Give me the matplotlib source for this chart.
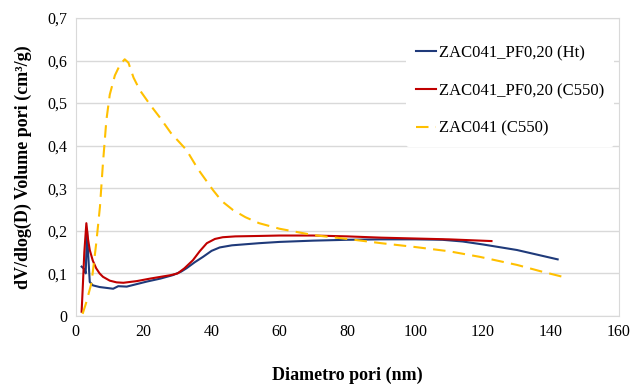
import matplotlib.pyplot as plt
from matplotlib.ticker import FuncFormatter

plt.rcParams['font.family'] = ['Liberation Serif', 'DejaVu Serif']

# dati
x_ht = [1.7, 2.5, 2.9, 3.3, 3.6, 4.1, 5, 7, 9, 11, 12, 12.5, 15, 18, 21, 25, 28.6, 31,
        32.6, 35, 37.5, 40, 42.4, 46, 54, 60, 70, 80, 90, 100, 108, 114, 120, 130, 142]
y_ht = [0.116, 0.11, 0.1, 0.198, 0.15, 0.08, 0.072, 0.068, 0.066, 0.064, 0.068, 0.07,
        0.069, 0.075, 0.081, 0.088, 0.096, 0.104, 0.112, 0.126, 0.139, 0.153, 0.161,
        0.166, 0.171, 0.174, 0.177, 0.179, 0.18, 0.18, 0.179, 0.175, 0.168, 0.155, 0.133]

x_c550 = [1.7, 2.0, 2.5, 3.1, 3.6, 4.1, 5, 6, 7, 8, 10, 12, 14, 18, 22, 25, 28, 30, 32,
          34.5, 36.5, 38.6, 41, 43.3, 47, 54, 60, 70, 80, 90, 100, 110, 122.5]
y_c550 = [0.01, 0.06, 0.15, 0.218, 0.18, 0.155, 0.13, 0.112, 0.1, 0.092, 0.083, 0.079,
          0.078, 0.082, 0.088, 0.092, 0.096, 0.1, 0.112, 0.131, 0.152, 0.171, 0.181,
          0.185, 0.187, 0.188, 0.189, 0.189, 0.187, 0.184, 0.182, 0.18, 0.176]

x_ref = [2, 3, 4.6, 6, 7.1, 8, 9, 10, 11.5, 13, 14.4, 15.5, 17, 18.9, 22, 24.7, 28, 32.6,
         36, 40.4, 43, 46.3, 50, 54, 60, 70, 80, 90, 100, 110, 119, 130, 137, 145]
y_ref = [0.005, 0.03, 0.077, 0.17, 0.256, 0.36, 0.46, 0.52, 0.565, 0.59, 0.603, 0.595,
         0.56, 0.53, 0.495, 0.467, 0.43, 0.39, 0.345, 0.296, 0.27, 0.249, 0.232, 0.218,
         0.205, 0.19, 0.181, 0.171, 0.162, 0.152, 0.139, 0.12, 0.105, 0.089]

labels = ['ZAC041_PF0,20 (Ht)', 'ZAC041_PF0,20 (C550)', 'ZAC041 (C550)']

fig = plt.figure(figsize=(6.32, 3.87), dpi=100)
ax = fig.add_axes([0.120, 0.1835, 0.859, 0.770])

ax.plot(x_ht, y_ht, color='#1f3a7a', lw=1.5, label=labels[0])
ax.plot(x_c550, y_c550, color='#c00000', lw=1.5, label=labels[1])
ax.plot(x_ref, y_ref, color='#ffc000', lw=1.5, dashes=(6, 3.5), label=labels[2])

ax.set_xlim(0, 160)
ax.set_ylim(0, 0.7)
ax.set_xticks(range(0, 161, 20))
ax.set_yticks([i / 10 for i in range(8)])
ax.yaxis.set_major_formatter(FuncFormatter(lambda v, p: '0' if v == 0 else ('%.1f' % v).replace('.', ',')))
ax.tick_params(length=0, labelsize=11.5, pad=6)
ax.grid(axis='y', color='#d9d9d9', lw=1)
ax.set_axisbelow(True)
for s in ax.spines.values():
    s.set_color('#d9d9d9')

ax.set_xlabel('Diametro pori (nm)', fontsize=13, fontweight='bold', labelpad=19)
ax.set_ylabel('dV/dlog(D) Volume pori (cm³/g)', fontsize=13, fontweight='bold', labelpad=11)

leg = ax.legend(loc='upper left', bbox_to_anchor=(0.592, 0.97), fontsize=12,
                frameon=True, edgecolor='none', facecolor='white', framealpha=1,
                handlelength=1.2, handletextpad=0.2, labelspacing=1.3, borderpad=0.6)

fig.savefig('out.png', dpi=100)
